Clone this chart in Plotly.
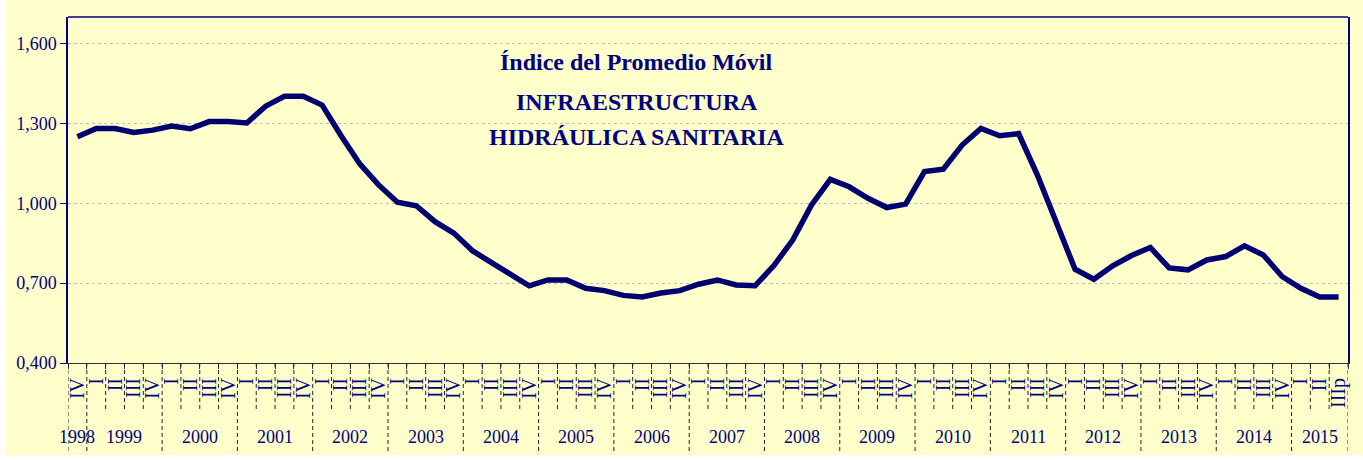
#!/usr/bin/env python

import plotly.graph_objects as go

# quarters from 1998 IV to 2015 III (p)
years = [1998] + [y for y in range(1999, 2015) for _ in range(4)] + [2015] * 3
quarters = ["IV"] + ["I", "II", "III", "IV"] * 16 + ["I", "II", "IIIp"]

indice = [
    1.250, 1.281, 1.281, 1.266, 1.275, 1.290, 1.280, 1.307, 1.307, 1.302,
    1.365, 1.402, 1.402, 1.369, 1.255, 1.148, 1.069, 1.004, 0.991, 0.931,
    0.888, 0.821, 0.777, 0.731, 0.690, 0.712, 0.712, 0.681, 0.672, 0.654,
    0.648, 0.663, 0.672, 0.696, 0.712, 0.693, 0.690, 0.766, 0.862, 0.994,
    1.090, 1.062, 1.019, 0.984, 0.997, 1.119, 1.128, 1.219, 1.281, 1.254,
    1.262, 1.106, 0.931, 0.752, 0.715, 0.765, 0.804, 0.834, 0.757, 0.750,
    0.787, 0.800, 0.840, 0.806, 0.725, 0.681, 0.648, 0.648,
]

ytick_vals = [0.4, 0.7, 1.0, 1.3, 1.6]
titulo = ["Índice del Promedio Móvil", "INFRAESTRUCTURA", "HIDRÁULICA SANITARIA"]

navy = "#000080"
serif = "Liberation Serif, Times New Roman, serif"
idx = list(range(len(indice)))

fig = go.Figure()
fig.add_trace(go.Scatter(x=idx, y=indice, mode="lines",
                         line=dict(color="#000070", width=5.5), showlegend=False))

fig.update_layout(
    width=1363,
    height=460,
    margin=dict(l=68, r=15, t=17, b=97),
    paper_bgcolor="white",
    plot_bgcolor="#FFFFCC",
    separators=",.",
    font=dict(family=serif, color=navy),
)

fig.update_xaxes(
    range=[-0.5, len(idx) - 0.5],
    tickvals=idx,
    ticktext=quarters,
    tickangle=-90,
    ticks="",
    tickfont=dict(size=20, color=navy),
    ticklabelstandoff=6,
    showgrid=False,
    zeroline=False,
    showline=True,
    linecolor="#333333",
    linewidth=1,
    minor=dict(tickmode="linear", tick0=-0.5, dtick=1, ticks="outside",
               ticklen=5, tickcolor="#333333"),
)
fig.update_yaxes(
    range=[0.4, 1.7],
    tickvals=ytick_vals,
    tickformat=".3f",
    ticks="outside",
    ticklen=6,
    tickcolor=navy,
    tickfont=dict(size=18, color=navy),
    showline=True,
    mirror=True,
    linecolor=navy,
    linewidth=1.5,
    gridcolor="#BDBDBD",
    griddash="dot",
    zeroline=False,
)

# yellow page behind everything, with the thin white edge of the original
fig.add_shape(type="rect", xref="paper", yref="paper", x0=-0.0484, x1=1.02,
              y0=-0.266, y1=1.06, fillcolor="#FFFFCC", line_width=0, layer="below")
# top border of the plot
fig.add_shape(type="line", xref="paper", yref="paper", x0=0, x1=1, y0=1, y1=1,
              line=dict(color=navy, width=1.5))

# dashed separators between quarters / years
for i in range(len(idx) + 1):
    new_year = i == 0 or i == len(idx) or years[i] != years[i - 1]
    fig.add_shape(type="line", xref="x", yref="paper", x0=i - 0.5, x1=i - 0.5,
                  y0=0, y1=-0.257 if new_year else -0.136,
                  line=dict(color="#222222", width=1, dash="4px,3px"))

# year labels centred under their quarters
for yr in sorted(set(years)):
    pos = [i for i, y in enumerate(years) if y == yr]
    fig.add_annotation(x=sum(pos) / len(pos), y=-0.214, xref="x", yref="paper",
                       yanchor="middle", text=str(yr), showarrow=False,
                       font=dict(size=18, color=navy, family=serif))

for line, ypos in zip(titulo, [0.870, 0.754, 0.653]):
    fig.add_annotation(x=0.4445, y=ypos, xref="paper", yref="paper",
                       yanchor="middle", text="<b>" + line + "</b>", showarrow=False,
                       font=dict(size=24, color=navy, family=serif))

fig.write_html("out.html", config={"displayModeBar": False},
               post_script="document.body.style.margin='0';")
